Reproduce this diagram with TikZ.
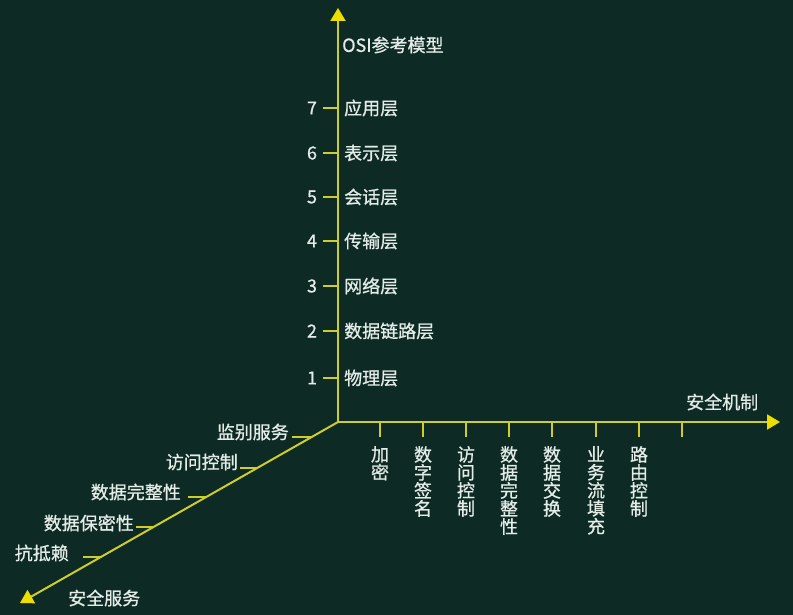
\documentclass[tikz,border=0pt]{standalone}
\usepackage{fontspec}
\setmainfont{Noto Sans CJK SC}[FakeBold=0.8]
\usetikzlibrary{arrows.meta}
\definecolor{bgc}{RGB}{14,42,36}
\definecolor{axc}{RGB}{205,205,45}
\definecolor{tipc}{RGB}{238,222,0}
\definecolor{txc}{RGB}{228,236,232}
\begin{document}
\begin{tikzpicture}[x=1pt,y=-1pt,
  axisline/.style={draw=axc,line width=2pt},
  arr/.style={-{Triangle[width=15pt,length=13pt,fill=tipc,color=tipc]}},
  tickline/.style={draw=axc,line width=2pt},
  lbl/.style={text=txc,font=\fontsize{18}{18}\selectfont,inner sep=0pt},
  vlbl/.style={lbl,align=center,anchor=north}]
\fill[bgc] (0,0) rectangle (793,615);
\useasboundingbox (0,0) rectangle (793,615);
\coordinate (O) at (338,422);
\coordinate (Ytop) at (338,8);
\coordinate (Xend) at (780,422);
\coordinate (Zend) at (20,603);
\draw[axisline,arr] (O) -- (Ytop);
\draw[axisline,arr] (O) -- (Xend);
\draw[axisline,arr] (O) -- (Zend);
% axis titles
\node[lbl,anchor=west] (osi) at (342,45) {OSI参考模型};
\node[lbl,anchor=west] (jz) at (686,402) {安全机制};
\node[lbl,anchor=west] (fw) at (68,598) {安全服务};
% vertical ticks
\foreach \i/\y/\t in {1/378/物理层,2/331/数据链路层,3/286/网络层,4/241/传输层,5/197/会话层,6/153/表示层,7/108/应用层}{
  \coordinate (ya\i) at (323,\y);
  \coordinate (yb\i) at (338,\y);
  \draw[tickline] (ya\i) -- (yb\i);
  \node[lbl] (yn\i) at (312,\y) {\i};
  \node[lbl,anchor=west] (yl\i) at (344,\y) {\t};
}
% horizontal ticks
\foreach \i/\x in {1/380,2/423,3/466,4/509,5/552,6/596,7/639,8/682}{
  \coordinate (xa\i) at (\x,422);
  \coordinate (xb\i) at (\x,437);
  \draw[tickline] (xa\i) -- (xb\i);
}
\node[vlbl] (m1) at (xb1) [yshift=-9pt] {加\\密};
\node[vlbl] (m2) at (xb2) [yshift=-9pt] {数\\字\\签\\名};
\node[vlbl] (m3) at (xb3) [yshift=-9pt] {访\\问\\控\\制};
\node[vlbl] (m4) at (xb4) [yshift=-9pt] {数\\据\\完\\整\\性};
\node[vlbl] (m5) at (xb5) [yshift=-9pt] {数\\据\\交\\换};
\node[vlbl] (m6) at (xb6) [yshift=-9pt] {业\\务\\流\\填\\充};
\node[vlbl] (m7) at (xb7) [yshift=-9pt] {路\\由\\控\\制};
% diagonal ticks
\foreach \i/\xa/\xb/\y in {1/292/312/437,2/240/257/468,3/188/207/497,4/136/154/527,5/83/102/557}{
  \coordinate (za\i) at (\xa,\y);
  \coordinate (zb\i) at (\xb,\y);
  \draw[tickline] (za\i) -- (zb\i);
}
\node[lbl,anchor=east] (s1) at (289,432) {监别服务};
\node[lbl,anchor=east] (s2) at (238,462) {访问控制};
\node[lbl,anchor=east] (s3) at (181,492) {数据完整性};
\node[lbl,anchor=east] (s4) at (134,523) {数据保密性};
\node[lbl,anchor=east] (s5) at (69,553) {抗抵赖};
\end{tikzpicture}
\end{document}
